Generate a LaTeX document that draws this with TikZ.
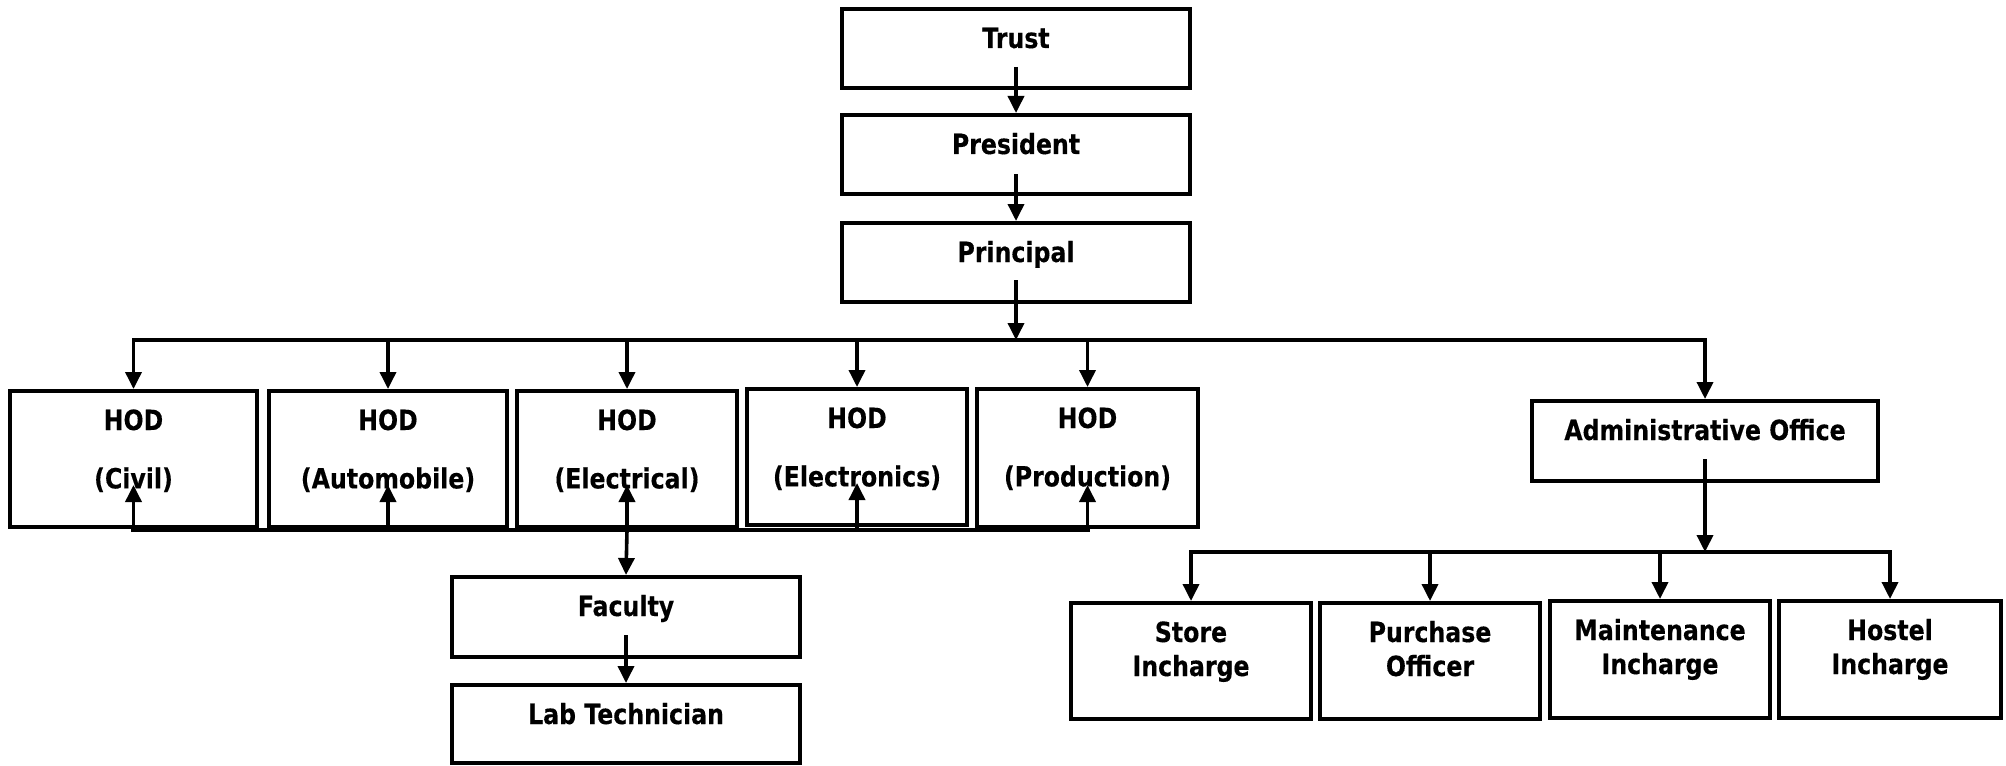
\documentclass[tikz,border=0pt]{standalone}
\usepackage{fontspec}
\setmainfont{DejaVu Sans}[FakeStretch=0.85,FakeBold=0.3]
\usetikzlibrary{arrows.meta,calc}
\newdimen\px \px=0.5pt
% name, x1, y1, x2, y2, text
\newcommand\obox[6]{\node[obx] (#1) at ({(#2+#4)/2},{(#3+#5)/2}) {\parbox[c][\dimexpr\px*(#5-#3)\relax][t]{\dimexpr\px*(#4-#2)\relax}{\centering #6}};}
\newcommand\firstln{\rule{0pt}{39\px}}
\newcommand\secondln{\rule{0pt}{56\px}}
\begin{document}
\begin{tikzpicture}[x=0.5pt,y=-0.5pt,
  obx/.style={draw, line width=2pt, inner sep=0pt, font=\fontsize{13.9pt}{17pt}\selectfont\bfseries},
  conn/.style={line width=1.8pt},
  bus/.style={line width=1.75pt, line cap=rect},
  arr/.style={conn, -{Triangle[length=8.5pt,width=8pt]}}]
\useasboundingbox (0,0) rectangle (2006,765);
\obox{trust}{842}{9}{1190}{88}{\firstln Trust}
\obox{president}{842}{115}{1190}{194}{\firstln President}
\obox{principal}{842}{223}{1190}{302}{\firstln Principal}
\obox{civil}{10}{391}{257}{527}{\firstln HOD\\\secondln(Civil)}
\obox{auto}{269}{391}{507}{527}{\firstln HOD\\\secondln(Automobile)}
\obox{elec}{517}{391}{737}{527}{\firstln HOD\\\secondln(Electrical)}
\obox{electronics}{747}{389}{967}{525}{\firstln HOD\\\secondln(Electronics)}
\obox{production}{977}{389}{1198}{527}{\firstln HOD\\\secondln(Production)}
\obox{admin}{1532}{401}{1878}{481}{\firstln Administrative Office}
\obox{faculty}{452}{577}{800}{657}{\firstln Faculty}
\obox{lab}{452}{685}{800}{763}{\firstln Lab Technician}
\obox{store}{1071}{603}{1311}{719}{\firstln Store\\Incharge}
\obox{purchase}{1320}{603}{1540}{719}{\firstln Purchase\\Officer}
\obox{maint}{1550}{601}{1770}{718}{\firstln Maintenance\\Incharge}
\obox{hostel}{1779}{601}{2001}{718}{\firstln Hostel\\Incharge}
\coordinate (bus1) at (1016,340);
\coordinate (bus2) at (0,530);
\coordinate (bus3) at (1705,552);
% top chain
\draw[arr] ($(trust.south)+(0,-23)$) -- (president.north);
\draw[arr] ($(president.south)+(0,-22)$) -- (principal.north);
\draw[arr] ($(principal.south)+(0,-24)$) -- (bus1);
\draw[bus] (civil.north |- bus1) -- (admin.north |- bus1);
\foreach \n in {civil,auto,elec,electronics,production,admin}
  \draw[arr] (\n.north |- bus1) -- (\n.north);
% bottom bus of HODs
\draw[bus, line width=2.2pt] (civil.south |- bus2) -- (production.south |- bus2);
\foreach \n in {civil,auto,elec,electronics,production}
  \draw[arr] (\n.south |- bus2) -- ($(\n.south)+(0,-44)$);
\draw[arr] (elec.south |- bus2) -- (faculty.north);
\draw[arr] ($(faculty.south)+(0,-24)$) -- (lab.north);
% admin branch
\draw[arr] ($(admin.south)+(0,-24)$) -- (bus3);
\draw[bus] (store.north |- bus3) -- (hostel.north |- bus3);
\foreach \n in {store,purchase,maint,hostel}
  \draw[arr] (\n.north |- bus3) -- (\n.north);
\end{tikzpicture}
\end{document}
